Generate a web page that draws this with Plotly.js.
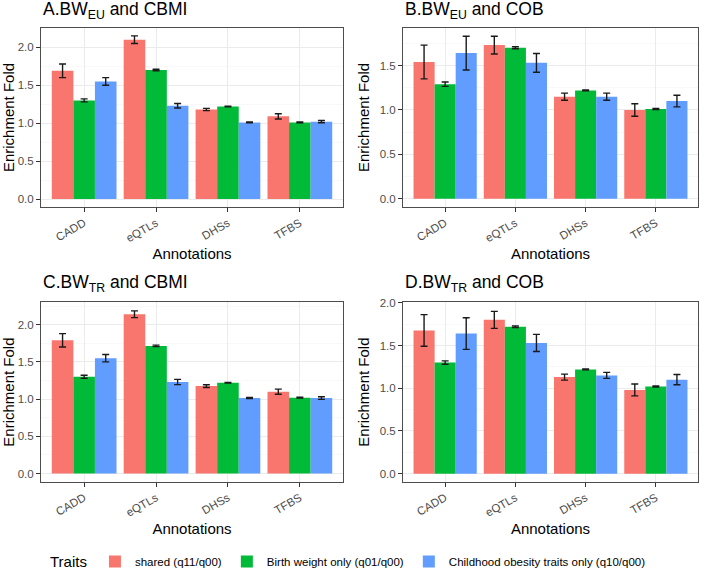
<!DOCTYPE html>
<html>
<head>
<meta charset="utf-8">
<script src="https://cdn.plot.ly/plotly-3.0.1.min.js"></script>
<style>html,body{margin:0;padding:0;background:#fff;} #chart{width:708px;height:577px;}</style>
</head>
<body>
<div id="chart"></div>
<script>
// Categories and series
const categories = ['CADD', 'eQTLs', 'DHSs', 'TFBS'];
const seriesNames = ['shared (q11/q00)', 'Birth weight only (q01/q00)', 'Childhood obesity traits only (q10/q00)'];
const seriesColors = ['#F8766D', '#00BA38', '#619CFF'];

// Panel A: BW_EU and CBMI
const A_shared = [1.69, 2.10, 1.18, 1.09];
const A_shared_err = [0.09, 0.05, 0.015, 0.035];
const A_bw = [1.30, 1.70, 1.22, 1.01];
const A_bw_err = [0.02, 0.01, 0.005, 0.005];
const A_cob = [1.55, 1.23, 1.01, 1.02];
const A_cob_err = [0.05, 0.03, 0.006, 0.015];

// Panel B: BW_EU and COB
const B_shared = [1.54, 1.73, 1.15, 1.00];
const B_shared_err = [0.19, 0.10, 0.04, 0.07];
const B_bw = [1.29, 1.70, 1.22, 1.01];
const B_bw_err = [0.025, 0.012, 0.004, 0.006];
const B_cob = [1.64, 1.53, 1.15, 1.10];
const B_cob_err = [0.19, 0.105, 0.04, 0.065];

// Panel C: BW_TR and CBMI
const C_shared = [1.79, 2.14, 1.175, 1.10];
const C_shared_err = [0.09, 0.045, 0.018, 0.035];
const C_bw = [1.30, 1.715, 1.22, 1.02];
const C_bw_err = [0.02, 0.01, 0.005, 0.005];
const C_cob = [1.55, 1.23, 1.015, 1.015];
const C_cob_err = [0.05, 0.035, 0.008, 0.018];

// Panel D: BW_TR and COB
const D_shared = [1.676, 1.80, 1.13, 0.98];
const D_shared_err = [0.185, 0.10, 0.035, 0.07];
const D_bw = [1.30, 1.72, 1.22, 1.02];
const D_bw_err = [0.02, 0.01, 0.005, 0.006];
const D_cob = [1.64, 1.53, 1.15, 1.10];
const D_cob_err = [0.185, 0.10, 0.035, 0.06];

const panelTitles = ['A.BW<sub>EU</sub> and CBMI', 'B.BW<sub>EU</sub> and COB', 'C.BW<sub>TR</sub> and CBMI', 'D.BW<sub>TR</sub> and COB'];

const panels = [
  {vals: [A_shared, A_bw, A_cob], errs: [A_shared_err, A_bw_err, A_cob_err]},
  {vals: [B_shared, B_bw, B_cob], errs: [B_shared_err, B_bw_err, B_cob_err]},
  {vals: [C_shared, C_bw, C_cob], errs: [C_shared_err, C_bw_err, C_cob_err]},
  {vals: [D_shared, D_bw, D_cob], errs: [D_shared_err, D_bw_err, D_cob_err]}
];

const W = 708, H = 577;
const FONT = 'Liberation Sans, Arial, sans-serif';
const xDomains = [[41/W, 343/W], [403/W, 698/W], [41/W, 343/W], [403/W, 698/W]];
const yDomains = [[1-209/H, 1-28/H], [1-209/H, 1-28/H], [1-486/H, 1-305/H], [1-486/H, 1-305/H]];
const yRanges = [[-0.1075, 2.2575], [-0.094, 1.925], [-0.11, 2.30], [-0.0955, 2.005]];

const traces = [];
panels.forEach((p, pi) => {
  const sfx = pi === 0 ? '' : String(pi + 1);
  for (let s = 0; s < 3; s++) {
    traces.push({
      type: 'bar',
      x: categories,
      y: p.vals[s],
      name: seriesNames[s],
      legendgroup: 'g' + s,
      showlegend: pi === 0,
      marker: {color: seriesColors[s], line: {width: 0}},
      error_y: {type: 'data', array: p.errs[s], visible: true, color: '#1a1a1a', thickness: 1.4, width: 3.5},
      xaxis: 'x' + sfx,
      yaxis: 'y' + sfx,
      hoverinfo: 'x+y'
    });
  }
});

const layout = {
  width: W, height: H,
  margin: {l: 0, r: 0, t: 0, b: 0},
  paper_bgcolor: '#ffffff',
  plot_bgcolor: '#ffffff',
  barmode: 'group',
  bargap: 0.1,
  bargroupgap: 0,
  font: {family: FONT, color: '#000'},
  showlegend: true,
  legend: {
    orientation: 'h',
    x: 48/W, xanchor: 'left',
    y: 1-567/H, yanchor: 'middle',
    title: {text: 'Traits', font: {size: 15, color: '#000'}, side: 'left'},
    font: {size: 11.5, color: '#000'},
    traceorder: 'normal'
  },
  annotations: [],
  shapes: []
};

panels.forEach((p, pi) => {
  const sfx = pi === 0 ? '' : String(pi + 1);
  layout['xaxis' + sfx] = {
    domain: xDomains[pi],
    anchor: 'y' + sfx,
    type: 'category',
    range: [-0.6, 3.6],
    showgrid: true, gridcolor: '#EBEBEB', gridwidth: 1,
    showline: true, mirror: true, linecolor: '#4D4D4D', linewidth: 1,
    ticks: 'outside', ticklen: 4, tickcolor: '#333333', tickwidth: 1,
    tickangle: -30,
    tickfont: {size: 11.5, color: '#4D4D4D', family: FONT},
    title: {text: 'Annotations', font: {size: 15, color: '#000', family: FONT}, standoff: 5},
    zeroline: false, fixedrange: true, automargin: false
  };
  layout['yaxis' + sfx] = {
    domain: yDomains[pi],
    anchor: 'x' + sfx,
    range: yRanges[pi],
    dtick: 0.5, tick0: 0,
    tickformat: '.1f',
    showgrid: true, gridcolor: '#EBEBEB', gridwidth: 1,
    minor: {dtick: 0.25, tick0: 0.25, showgrid: true, gridcolor: '#F3F3F3', gridwidth: 0.6, ticklen: 0},
    showline: true, mirror: true, linecolor: '#4D4D4D', linewidth: 1,
    ticks: 'outside', ticklen: 4, tickcolor: '#333333', tickwidth: 1,
    tickfont: {size: 11.5, color: '#4D4D4D', family: FONT},
    title: {text: 'Enrichment Fold', font: {size: 15, color: '#000', family: FONT}, standoff: 6},
    zeroline: false, fixedrange: true, automargin: false
  };
  layout.annotations.push({
    text: panelTitles[pi],
    xref: 'paper', yref: 'paper',
    x: xDomains[pi][0], xanchor: 'left',
    y: pi < 2 ? 1 - 11/H : 1 - 286/H, yanchor: 'middle',
    showarrow: false,
    font: {size: 17.5, color: '#000', family: FONT}
  });
});

Plotly.newPlot('chart', traces, layout, {displayModeBar: false, staticPlot: true});
</script>
</body>
</html>
